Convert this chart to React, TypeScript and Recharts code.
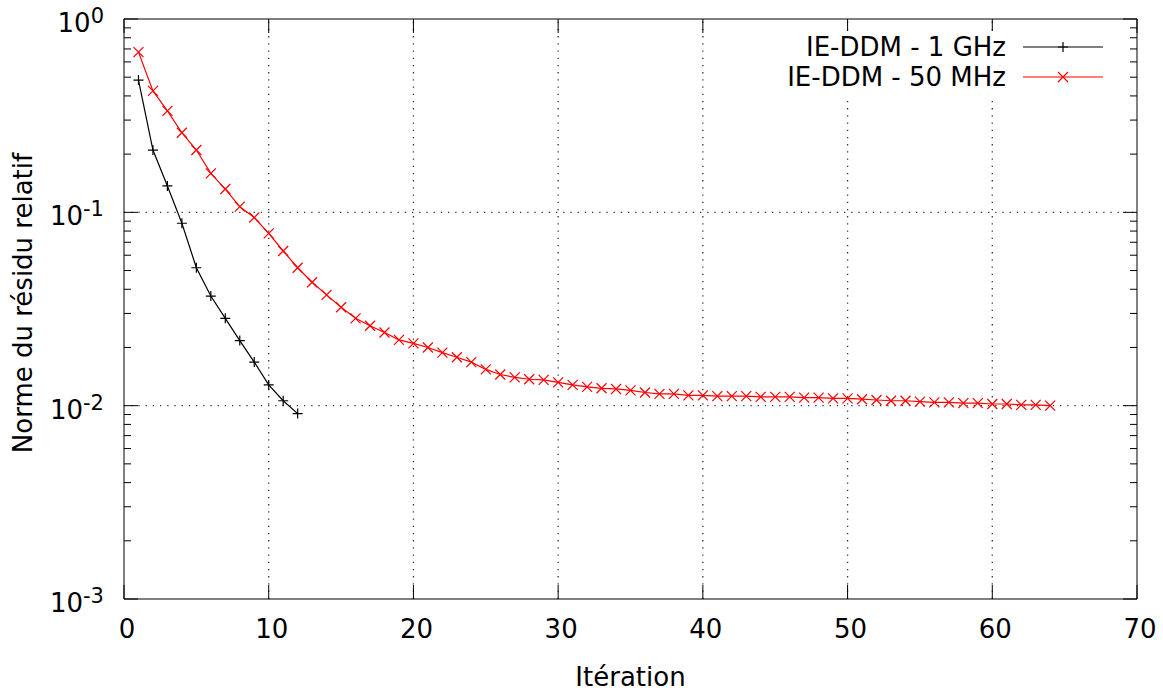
import { LineChart, Line, XAxis, YAxis, ReferenceLine } from "recharts";

// iteration number (x) and relative residual norm (y, log scale)
const ITERATIONS = [
  1, 2, 3, 4, 5, 6, 7, 8, 9, 10, 11, 12, 13, 14, 15, 16, 17, 18, 19, 20, 21, 22,
  23, 24, 25, 26, 27, 28, 29, 30, 31, 32, 33, 34, 35, 36, 37, 38, 39, 40, 41, 42,
  43, 44, 45, 46, 47, 48, 49, 50, 51, 52, 53, 54, 55, 56, 57, 58, 59, 60, 61, 62,
  63, 64,
];

const RESIDU_1GHZ = [
  0.483, 0.21, 0.137, 0.0878, 0.0517, 0.0369, 0.0283, 0.0217, 0.0168, 0.0128,
  0.0106, 0.0091,
];

const RESIDU_50MHZ = [
  0.674, 0.425, 0.335, 0.258, 0.21, 0.159, 0.132, 0.107, 0.094, 0.0779, 0.0631,
  0.0517, 0.0435, 0.0374, 0.0323, 0.0283, 0.0259, 0.0239, 0.0219, 0.021, 0.02,
  0.0188, 0.0178, 0.0168, 0.0154, 0.0145, 0.014, 0.0137, 0.0136, 0.0132, 0.0128,
  0.0125, 0.0123, 0.0122, 0.012, 0.0117, 0.0115, 0.0115, 0.0113, 0.0113, 0.0112,
  0.0112, 0.0112, 0.0111, 0.0111, 0.0111, 0.011, 0.011, 0.0109, 0.0109, 0.0108,
  0.0107, 0.0106, 0.0106, 0.0105, 0.0104, 0.0104, 0.0103, 0.0103, 0.0102,
  0.0102, 0.0101, 0.0101, 0.01,
];

const X_TICKS = [0, 10, 20, 30, 40, 50, 60, 70];
const X_GRID = [10, 20, 30, 40, 50, 60];
const Y_MAJOR = [0.001, 0.01, 0.1, 1];
const Y_GRID = [0.01, 0.1];
const Y_MINOR = [
  0.002, 0.003, 0.004, 0.005, 0.006, 0.007, 0.008, 0.009,
  0.02, 0.03, 0.04, 0.05, 0.06, 0.07, 0.08, 0.09,
  0.2, 0.3, 0.4, 0.5, 0.6, 0.7, 0.8, 0.9,
];

const SERIES_NAMES = ["IE-DDM - 1 GHz", "IE-DDM - 50 MHz"];

const W = 1163;
const H = 691;
const PLOT_LEFT = 124;
const PLOT_RIGHT = 1137;
const PLOT_TOP = 19;
const PLOT_BOTTOM = 599;
const FONT = "'DejaVu Sans', sans-serif";
const FS = 26;

const chartData = ITERATIONS.map((it, i) => ({
  it,
  ghz: RESIDU_1GHZ[i],
  mhz: RESIDU_50MHZ[i],
}));

function PlusDot(props: any) {
  const { cx, cy, stroke } = props;
  if (cx == null || cy == null || props.value == null) return <g />;
  const r = 5;
  return (
    <path
      d={`M${cx - r},${cy}H${cx + r}M${cx},${cy - r}V${cy + r}`}
      stroke={stroke}
      strokeWidth={1.2}
      fill="none"
    />
  );
}

function CrossDot(props: any) {
  const { cx, cy, stroke } = props;
  if (cx == null || cy == null || props.value == null) return <g />;
  const r = 5;
  return (
    <path
      d={`M${cx - r},${cy - r}L${cx + r},${cy + r}M${cx - r},${cy + r}L${cx + r},${cy - r}`}
      stroke={stroke}
      strokeWidth={1.2}
      fill="none"
    />
  );
}

function XTick(props: any) {
  const { x, payload } = props;
  return (
    <g>
      <line x1={x} x2={x} y1={PLOT_BOTTOM} y2={PLOT_BOTTOM - 14} stroke="#000" />
      <line x1={x} x2={x} y1={PLOT_TOP} y2={PLOT_TOP + 14} stroke="#000" />
      <text
        x={x + 3}
        y={PLOT_BOTTOM + 39}
        textAnchor="middle"
        fontFamily={FONT}
        fontSize={FS}
        fill="#000"
      >
        {payload.value}
      </text>
    </g>
  );
}

function YTick(props: any) {
  const { y, payload } = props;
  const v = payload.value;
  const major = Y_MAJOR.includes(v);
  const len = major ? 14 : 7;
  return (
    <g>
      <line x1={PLOT_LEFT} x2={PLOT_LEFT + len} y1={y} y2={y} stroke="#000" />
      <line x1={PLOT_RIGHT - len} x2={PLOT_RIGHT} y1={y} y2={y} stroke="#000" />
      {major && (
        <text
          x={104}
          y={y + 13}
          textAnchor="end"
          fontFamily={FONT}
          fontSize={FS}
          fill="#000"
        >
          10
          <tspan dy={-9} fontSize={21}>
            {String(Math.round(Math.log10(v)))}
          </tspan>
        </text>
      )}
    </g>
  );
}

function LegendRow({ label, color, cross }: { label: string; color: string; cross: boolean }) {
  return (
    <div style={{ display: "flex", alignItems: "center", height: 30 }}>
      <div style={{ width: 226, textAlign: "right" }}>{label}</div>
      <svg width={98} height={30} style={{ display: "block" }}>
        <line x1={17} x2={97} y1={15} y2={15} stroke={color} strokeWidth={1.2} />
        {cross ? (
          <path d="M52,10L62,20M52,20L62,10" stroke={color} strokeWidth={1.2} />
        ) : (
          <path d="M57,10V20M52,15H62" stroke={color} strokeWidth={1.2} />
        )}
      </svg>
    </div>
  );
}

export default function App() {
  const yTicks = [...Y_MAJOR, ...Y_MINOR].sort((a, b) => a - b);
  return (
    <div
      style={{
        position: "absolute",
        left: 0,
        top: 0,
        width: W,
        height: H,
        background: "#fff",
        fontFamily: FONT,
        fontSize: FS,
        color: "#000",
      }}
    >
      <LineChart
        width={W}
        height={H}
        data={chartData}
        margin={{ top: PLOT_TOP, right: W - PLOT_RIGHT, left: 0, bottom: 0 }}
      >
        <XAxis
          dataKey="it"
          type="number"
          domain={[0, 70]}
          ticks={X_TICKS}
          interval={0}
          height={H - PLOT_BOTTOM}
          tickLine={false}
          axisLine={{ stroke: "#000" }}
          tick={(p: any) => <XTick {...p} />}
        />
        <YAxis
          type="number"
          scale="log"
          domain={[0.001, 1]}
          allowDataOverflow
          ticks={yTicks}
          interval={0}
          width={PLOT_LEFT}
          tickLine={false}
          axisLine={{ stroke: "#000" }}
          tick={(p: any) => <YTick {...p} />}
        />
        {X_GRID.map((v) => (
          <ReferenceLine
            key={`gx${v}`}
            x={v}
            stroke="#333"
            strokeWidth={1.3}
            strokeDasharray="1.3 5.9"
          />
        ))}
        {Y_GRID.map((v) => (
          <ReferenceLine
            key={`gy${v}`}
            y={v}
            stroke="#333"
            strokeWidth={1.3}
            strokeDasharray="1.3 5.9"
          />
        ))}
        <ReferenceLine y={1} stroke="#000" ifOverflow="visible" />
        <ReferenceLine x={70} stroke="#000" ifOverflow="visible" />
        <Line
          dataKey="ghz"
          name={SERIES_NAMES[0]}
          stroke="#000"
          strokeWidth={1.2}
          dot={(p: any) => <PlusDot key={`p${p.index}`} {...p} />}
          isAnimationActive={false}
          connectNulls={false}
        />
        <Line
          dataKey="mhz"
          name={SERIES_NAMES[1]}
          stroke="#ff0000"
          strokeWidth={1.2}
          dot={(p: any) => <CrossDot key={`c${p.index}`} {...p} />}
          isAnimationActive={false}
        />
      </LineChart>

      {/* key box, opaque like gnuplot's */}
      <div
        style={{
          position: "absolute",
          left: 780,
          top: 31,
          width: 334,
          height: 64,
          background: "#fff",
        }}
      >
        <div style={{ marginTop: 1 }}>
          <LegendRow label={SERIES_NAMES[0]} color="#000" cross={false} />
          <LegendRow label={SERIES_NAMES[1]} color="#ff0000" cross={true} />
        </div>
      </div>

      <div
        style={{
          position: "absolute",
          left: (PLOT_LEFT + PLOT_RIGHT) / 2,
          top: 677,
          transform: "translate(-50%, -50%)",
          whiteSpace: "nowrap",
        }}
      >
        Itération
      </div>
      <div
        style={{
          position: "absolute",
          left: 23,
          top: 303,
          transform: "translate(-50%, -50%) rotate(-90deg)",
          whiteSpace: "nowrap",
        }}
      >
        Norme du résidu relatif
      </div>
    </div>
  );
}
